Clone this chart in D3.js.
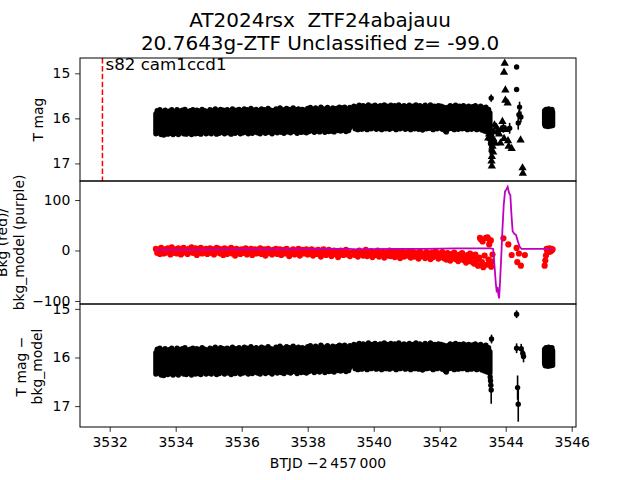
<!DOCTYPE html>
<html lang="en">
<head>
<meta charset="UTF-8">
<title>AT2024rsx light curve</title>
<script src="https://d3js.org/d3.v7.min.js"></script>
<style>
    body { margin: 0; background: #ffffff; }
    svg text { font-family: "DejaVu Sans", sans-serif; fill: #000000; white-space: pre; }
</style>
</head>
<body>
<div id="chart"></div>
<script>

// ---------------- data ----------------
const titleLines = ["AT2024rsx  ZTF24abajauu", "20.7643g-ZTF Unclassified z= -99.0"];
const sectorStart = 3531.78;          // start of sector (red dashed line)
const sectorLabel = "s82 cam1ccd1";
// the 200-s cadences are binned: each bin has a mean mag and a half-range of scatter
const orbitScatter = 0.22;
const lateScatter = 0.15;

// first orbit
const orbit1T = [
    3533.40, 3533.44, 3533.48, 3533.52, 3533.56, 3533.60, 3533.64, 3533.68, 3533.72, 3533.76, 3533.80, 3533.84, 3533.88, 3533.92, 3533.96,
    3534.00, 3534.04, 3534.08, 3534.12, 3534.16, 3534.20, 3534.24, 3534.28, 3534.32, 3534.36, 3534.40, 3534.44, 3534.48, 3534.52, 3534.56, 3534.60, 3534.64, 3534.68, 3534.72, 3534.76, 3534.80, 3534.84, 3534.88, 3534.92, 3534.96,
    3535.00, 3535.04, 3535.08, 3535.12, 3535.16, 3535.20, 3535.24, 3535.28, 3535.32, 3535.36, 3535.40, 3535.44, 3535.48, 3535.52, 3535.56, 3535.60, 3535.64, 3535.68, 3535.72, 3535.76, 3535.80, 3535.84, 3535.88, 3535.92, 3535.96,
    3536.00, 3536.04, 3536.08, 3536.12, 3536.16, 3536.20, 3536.24, 3536.28, 3536.32, 3536.36, 3536.40, 3536.44, 3536.48, 3536.52, 3536.56, 3536.60, 3536.64, 3536.68, 3536.72, 3536.76, 3536.80, 3536.84, 3536.88, 3536.92, 3536.96,
    3537.00, 3537.04, 3537.08, 3537.12, 3537.16, 3537.20, 3537.24, 3537.28, 3537.32, 3537.36, 3537.40, 3537.44, 3537.48, 3537.52, 3537.56, 3537.60, 3537.64, 3537.68, 3537.72, 3537.76, 3537.80, 3537.84, 3537.88, 3537.92, 3537.96,
    3538.00, 3538.04, 3538.08, 3538.12, 3538.16, 3538.20, 3538.24, 3538.28, 3538.32, 3538.36, 3538.40, 3538.44, 3538.48, 3538.52, 3538.56, 3538.60, 3538.64, 3538.68, 3538.72, 3538.76, 3538.80, 3538.84, 3538.88, 3538.92, 3538.96,
    3539.00, 3539.04, 3539.08, 3539.12, 3539.16, 3539.20, 3539.24, 3539.28
];
const orbit1Mag = [
    16.12, 16.05, 16.10, 16.03, 16.14, 16.07, 16.15, 16.04, 16.09, 16.13, 16.06, 16.11, 16.03, 16.14, 16.08,
    16.11, 16.03, 16.14, 16.06, 16.09, 16.04, 16.12, 16.02, 16.13, 16.07, 16.10, 16.05, 16.14, 16.03, 16.08, 16.12, 16.04, 16.11, 16.06, 16.13, 16.02, 16.09, 16.05, 16.12, 16.07,
    16.10, 16.03, 16.12, 16.05, 16.08, 16.01, 16.13, 16.06, 16.11, 16.02, 16.09, 16.04, 16.12, 16.07, 16.03, 16.10, 16.05, 16.13, 16.01, 16.08, 16.11, 16.04, 16.09, 16.02, 16.12,
    16.05, 16.10, 16.01, 16.09, 16.03, 16.12, 16.06, 16.00, 16.11, 16.04, 16.08, 16.02, 16.10, 16.05, 16.12, 16.01, 16.07, 16.03, 16.11, 16.06, 16.00, 16.09, 16.04, 16.12, 16.05,
    16.08, 16.01, 16.10, 16.04, 15.99, 16.09, 16.03, 16.11, 16.06, 16.00, 16.08, 16.02, 16.10, 16.05, 15.99, 16.07, 16.03, 16.11, 16.01, 16.06, 16.09, 16.02, 16.08, 16.04, 16.10,
    16.00, 16.07, 15.98, 16.05, 16.02, 16.09, 15.99, 16.06, 16.03, 16.08, 15.97, 16.04, 16.01, 16.09, 16.05, 15.98, 16.07, 16.02, 16.06, 15.99, 16.08, 16.03, 16.00, 16.05, 15.97,
    16.06, 15.99, 16.04, 15.97, 16.07, 16.01, 16.05, 15.98
];
const orbit1Bkg = [
    3, -5, 1, -7, 5, -2, -6, 2, -4, 4, -1, -8, 6, 0, -5,
    2, -6, 4, -3, -8, 1, 5, -4, 0, -7, 3, -2, 6, -5, -1, 4, -9, 2, -3, 5, -6, 1, -4, 3, -7,
    0, 4, -5, 2, -8, -1, 5, -4, 3, -6, 1, -9, 4, -2, -7, 2, -3, 5, -6, 0, -10, 3, -4, 1, -7,
    2, -5, -1, 4, -8, 0, -3, 3, -9, -2, 2, -6, 1, -4, 4, -7, -1, 2, -10, -3, 3, -5, 0, -8, 1,
    -4, 3, -7, -1, 2, -9, -3, 1, -6, 3, -2, -11, 0, -5, 2, -8, -1, -4, 3, -10, -2, 1, -6, -3, 2,
    -8, -1, -5, 2, -10, -3, 0, -7, 1, -4, -12, -2, 2, -6, -9, -1, 1, -5, -11, -3, 0, -7, -2, -13, -4,
    0, -6, -9, -2, 1, -8, -4, -11
];

// second orbit
const orbit2T = [
    3539.40, 3539.44, 3539.48, 3539.52, 3539.56, 3539.60, 3539.64, 3539.68, 3539.72, 3539.76, 3539.80, 3539.84, 3539.88, 3539.92, 3539.96,
    3540.00, 3540.04, 3540.08, 3540.12, 3540.16, 3540.20, 3540.24, 3540.28, 3540.32, 3540.36, 3540.40, 3540.44, 3540.48, 3540.52, 3540.56, 3540.60, 3540.64, 3540.68, 3540.72, 3540.76, 3540.80, 3540.84, 3540.88, 3540.92, 3540.96,
    3541.00, 3541.04, 3541.08, 3541.12, 3541.16, 3541.20, 3541.24, 3541.28, 3541.32, 3541.36, 3541.40, 3541.44, 3541.48, 3541.52, 3541.56, 3541.60, 3541.64, 3541.68, 3541.72, 3541.76, 3541.80, 3541.84, 3541.88, 3541.92, 3541.96,
    3542.00, 3542.04, 3542.08, 3542.12, 3542.16, 3542.20, 3542.24, 3542.28, 3542.32, 3542.36, 3542.40, 3542.44, 3542.48, 3542.52, 3542.56, 3542.60, 3542.64, 3542.68, 3542.72, 3542.76, 3542.80, 3542.84, 3542.88, 3542.92, 3542.96,
    3543.00, 3543.04, 3543.08, 3543.12, 3543.16, 3543.20, 3543.24, 3543.28, 3543.32, 3543.36, 3543.40, 3543.44, 3543.48, 3543.52
];
const orbit2Mag = [
    15.95, 16.01, 15.97, 16.03, 15.93, 15.99, 16.02, 15.94, 16.00, 15.96, 16.03, 15.92, 15.98, 16.01, 15.95,
    15.99, 15.93, 16.02, 15.96, 16.00, 15.94, 16.03, 15.97, 15.92, 16.01, 15.95, 15.99, 16.02, 15.93, 15.98, 16.00, 15.94, 16.03, 15.97, 15.92, 16.01, 15.96, 15.99, 15.94, 16.02,
    15.96, 16.00, 15.93, 16.03, 15.97, 15.95, 16.01, 15.92, 15.99, 16.02, 15.94, 15.98, 16.04, 15.96, 15.93, 16.01, 15.97, 16.00, 15.92, 15.99, 16.03, 15.95, 15.98, 16.01, 15.94,
    15.99, 15.95, 16.02, 15.97, 16.05, 16.08, 15.98, 16.01, 15.94, 16.00, 15.96, 16.03, 15.93, 15.99, 16.02, 15.95, 15.98, 16.01, 15.94, 16.00, 15.97, 16.03, 15.95, 15.99, 16.02,
    15.96, 16.00, 15.94, 16.03, 15.98, 16.01, 15.95, 16.04, 15.99, 16.06, 15.97, 16.08, 16.02, 16.10
];
const orbit2Bkg = [
    -2, -9, -5, -12, 0, -7, -3, -10, -6, 1, -11, -4, -8, -1, -13,
    -3, -9, -6, 0, -12, -5, -8, -2, -14, -7, -4, -10, 0, -11, -6, -3, -13, -8, -1, -9, -15, -5, -2, -12, -7,
    -4, -10, -1, -14, -7, -3, -12, -9, -5, -16, -2, -8, -11, -6, -15, -3, -10, -7, -17, -4, -13, -8, -2, -11, -16,
    -6, -12, -3, -15, -9, -18, -5, -11, -20, -7, -14, -4, -17, -10, -21, -8, -13, -5, -19, -11, -24, -9, -16, -6, -22,
    -12, -26, -8, -19, -30, -14, 22, -23, -33, -10, 25, -28, -18, 20
];

// late block after the gap
const lateT = [3545.18, 3545.20, 3545.22, 3545.24, 3545.26, 3545.28, 3545.30, 3545.32, 3545.34, 3545.36, 3545.38, 3545.40, 3545.42];
const lateMag = [15.98, 16.02, 15.95, 16.01, 15.97, 16.03, 15.94, 16.00, 15.96, 16.02, 15.99, 15.95, 16.01];
const lateBkg = [-30, -20, -10, 3, -2, 2, -3, 4, 0, -2, 3, 1, 2];

// flare / scattered light episode, T mag panel
const flareT   = [3543.56, 3543.55, 3543.57, 3543.54, 3543.58, 3543.56, 3543.47, 3543.50, 3543.93, 3544.12, 3544.33, 3544.33, 3544.42, 3544.40, 3544.46, 3544.38];
const flareMag = [15.55, 16.35, 16.45, 16.55, 16.62, 16.72, 16.30, 16.45, 16.20, 16.22, 14.86, 15.36, 15.75, 15.92, 15.97, 16.10];
const flareErr = [0.08, 0.10, 0.12, 0.12, 0.15, 0.12, 0.10, 0.12, 0.12, 0.12, 0.03, 0.05, 0.12, 0.10, 0.12, 0.15];

// upper limits (triangles)
const limitT   = [3543.97, 3543.95, 3543.99, 3543.99, 3544.06, 3543.58, 3543.58, 3543.60, 3543.62, 3543.72, 3543.80, 3543.86,
                  3543.90, 3543.95, 3543.58, 3543.47, 3544.09, 3544.07, 3544.18, 3544.45, 3544.51, 3544.52,
                  3543.50, 3543.62, 3543.68, 3543.74, 3543.66, 3543.84, 3544.00, 3543.62, 3543.57];
const limitMag = [14.78, 14.98, 15.37, 15.60, 15.66, 16.85, 17.06, 16.62, 16.30, 16.20, 16.35, 16.25,
                  16.07, 16.45, 16.55, 16.44, 16.62, 16.50, 16.67, 16.48, 17.10, 17.22,
                  16.35, 16.45, 16.55, 16.30, 16.15, 16.55, 16.25, 16.75, 16.95];

// background points outside the regular band
const bkgExtraT = [3543.22, 3543.30, 3543.45, 3543.50, 3543.55, 3543.56, 3543.58, 3543.60, 3543.93, 3544.08, 3544.33, 3544.18, 3544.40, 3544.58, 3544.35, 3544.46];
const bkgExtraV = [25, 18, 26, 12, 20, -32, -22, -8, 24, 12, 5, -9, -6, -9, -23, -30];

// background model (purple)
const modelT = [3533.40, 3534.50, 3535.50, 3536.50, 3537.50, 3538.50, 3539.28, 3539.40, 3540.50, 3541.50, 3542.50, 3543.30, 3543.55, 3543.62,
                3543.66, 3543.70, 3543.73, 3543.75, 3543.78, 3543.80, 3543.83, 3543.87, 3543.90, 3543.94, 3543.98, 3544.02, 3544.06, 3544.10,
                3544.14, 3544.17, 3544.21, 3544.26, 3544.31, 3544.36, 3544.42, 3544.48, 3545.18, 3545.42];
const modelV = [1, 1, 2, 2, 2, 3, 3, 2, 3, 3, 4, 4, 4, 3,
                -30, -65, -83, -72, -88, -95, -60, -5, 40, 90, 117, 121, 126, 114,
                110, 75, 38, 33, 31, 20, 8, 3, 3, 3];

// T mag - bkg_model panel, points outside the band
const corrT   = [3543.57, 3543.53, 3543.55, 3543.56, 3543.50, 3543.54, 3544.33, 3544.33, 3544.47, 3544.54, 3544.52, 3544.36, 3544.38];
const corrMag = [15.62, 16.40, 16.57, 16.67, 16.30, 16.48, 15.11, 15.81, 15.82, 15.98, 15.92, 16.62, 16.96];
const corrErr = [0.09, 0.10, 0.10, 0.28, 0.10, 0.10, 0.08, 0.10, 0.10, 0.12, 0.08, 0.25, 0.36];

const xTicks = [3532, 3534, 3536, 3538, 3540, 3542, 3544, 3546];
const magTicks = [15, 16, 17];
const bkgTicks = [-100, 0, 100];

// ---------------- layout ----------------
const width = 640, height = 480;
const left = 80, right = 576;
const panelH = 123;
const tops = [58, 181, 304];
const tickLen = 4.86, tickPad = 4.86;
const fontTick = 13.9;
const markerR = 2.7;

const svg = d3.select("#chart").append("svg")
    .attr("width", width)
    .attr("height", height);

const x = d3.scaleLinear().domain([3531.10, 3546.13]).range([left, right]);
const y1 = d3.scaleLinear().domain([14.66, 17.39]).range([tops[0], tops[0] + panelH]);
const y2 = d3.scaleLinear().domain([-106, 137.6]).range([tops[1] + panelH, tops[1]]);
const y3 = d3.scaleLinear().domain([14.90, 17.43]).range([tops[2], tops[2] + panelH]);

// binned band data
const band = orbit1T.map((t, i) => ({ t: t, m: orbit1Mag[i], s: orbitScatter, b: orbit1Bkg[i] }))
    .concat(orbit2T.map((t, i) => ({ t: t, m: orbit2Mag[i], s: orbitScatter, b: orbit2Bkg[i] })))
    .concat(lateT.map((t, i) => ({ t: t, m: lateMag[i], s: lateScatter, b: lateBkg[i] })));

// clip paths for the three panels
const defs = svg.append("defs");
tops.forEach((top, i) => {
    defs.append("clipPath").attr("id", "clip" + i)
        .append("rect")
        .attr("x", left).attr("y", top)
        .attr("width", right - left).attr("height", panelH);
});

function panel(i) {
    return svg.append("g").attr("clip-path", `url(#clip${i})`);
}

// each bin: the stack of overlapping markers between mean-scatter and mean+scatter
function bandBins(g, y, data, color) {
    g.append("g").selectAll("line")
        .data(data)
        .join("line")
        .attr("x1", d => x(d.t)).attr("x2", d => x(d.t))
        .attr("y1", d => y(d.m - d.s)).attr("y2", d => y(d.m + d.s))
        .attr("stroke", color)
        .attr("stroke-width", markerR * 2)
        .attr("stroke-linecap", "round");
}

// errorbar points (bars first, then markers)
function errPoints(g, y, data) {
    g.append("g").selectAll("line")
        .data(data)
        .join("line")
        .attr("x1", d => x(d.t)).attr("x2", d => x(d.t))
        .attr("y1", d => y(d.m - d.e)).attr("y2", d => y(d.m + d.e))
        .attr("stroke", "#000").attr("stroke-width", 1.6);
    g.append("g").selectAll("circle")
        .data(data)
        .join("circle")
        .attr("cx", d => x(d.t)).attr("cy", d => y(d.m))
        .attr("r", markerR)
        .attr("fill", "#000");
}

// ---- panel 1: T mag ----
const g1 = panel(0);
g1.append("line")
    .attr("x1", x(sectorStart)).attr("x2", x(sectorStart))
    .attr("y1", tops[0]).attr("y2", tops[0] + panelH)
    .attr("stroke", "red").attr("stroke-width", 1.5)
    .attr("stroke-dasharray", "5.5,2.4");

bandBins(g1, y1, band, "#000");
errPoints(g1, y1, flareT.map((t, i) => ({ t: t, m: flareMag[i], e: flareErr[i] })));

g1.append("g").selectAll("path")
    .data(limitT.map((t, i) => ({ t: t, m: limitMag[i] })))
    .join("path")
    .attr("d", d3.symbol(d3.symbolTriangle, 30))
    .attr("transform", d => `translate(${x(d.t)},${y1(d.m)})`)
    .attr("fill", "#000");

// ---- panel 2: background ----
const g2 = panel(1);
const redPts = band.map(d => ({ t: d.t, b: d.b }))
    .concat(bkgExtraT.map((t, i) => ({ t: t, b: bkgExtraV[i] })));
g2.append("g").selectAll("circle")
    .data(redPts)
    .join("circle")
    .attr("cx", d => x(d.t)).attr("cy", d => y2(d.b))
    .attr("r", 3.1)
    .attr("fill", "red");

g2.append("path")
    .datum(modelT.map((t, i) => [t, modelV[i]]))
    .attr("d", d3.line().x(d => x(d[0])).y(d => y2(d[1])))
    .attr("fill", "none")
    .attr("stroke", "#bf00bf")
    .attr("stroke-width", 1.8);

// ---- panel 3: T mag - bkg_model ----
const g3 = panel(2);
bandBins(g3, y3, band, "#000");
errPoints(g3, y3, corrT.map((t, i) => ({ t: t, m: corrMag[i], e: corrErr[i] })));

// ---- axes ----
function styleAxis(g) {
    g.select(".domain").remove();
    g.selectAll(".tick line").attr("stroke", "#000").attr("stroke-width", 0.8);
    g.selectAll(".tick text")
        .attr("font-size", fontTick)
        .attr("font-family", "DejaVu Sans")
        .attr("fill", "#000");
    g.attr("font-family", null).attr("font-size", null);
}

const fmt = d3.format("d");
[[y1, magTicks], [y2, bkgTicks], [y3, magTicks]].forEach(([y, ticks]) => {
    svg.append("g")
        .attr("transform", `translate(${left},0)`)
        .call(d3.axisLeft(y).tickValues(ticks).tickFormat(fmt).tickSize(tickLen).tickPadding(tickPad))
        .call(styleAxis);
});

svg.append("g")
    .attr("transform", `translate(0,${tops[2] + panelH})`)
    .call(d3.axisBottom(x).tickValues(xTicks).tickFormat(fmt).tickSize(tickLen).tickPadding(tickPad))
    .call(styleAxis);

// panel frames
tops.forEach(top => {
    svg.append("rect")
        .attr("x", left).attr("y", top)
        .attr("width", right - left).attr("height", panelH)
        .attr("fill", "none")
        .attr("stroke", "#000")
        .attr("stroke-width", 1);
});

// ---- texts ----
svg.append("text")
    .attr("x", x(sectorStart) + 3)
    .attr("y", 70)
    .attr("font-size", 16.7)
    .text(sectorLabel);

titleLines.forEach((s, i) => {
    svg.append("text")
        .attr("x", width / 2)
        .attr("y", 27 + i * 23)
        .attr("text-anchor", "middle")
        .attr("font-size", 20)
        .text(s);
});

svg.append("text")
    .attr("x", (left + right) / 2)
    .attr("y", 468)
    .attr("text-anchor", "middle")
    .attr("font-size", fontTick)
    .text("BTJD \u22122\u2009457\u2009000");

// rotated y labels, one entry per line
function yLabel(lines, cy, xs) {
    lines.forEach((s, i) => {
        svg.append("text")
            .attr("transform", `translate(${xs[i]},${cy}) rotate(-90)`)
            .attr("text-anchor", "middle")
            .attr("font-size", fontTick)
            .text(s);
    });
}
yLabel(["T mag"], tops[0] + panelH / 2, [43]);
yLabel(["Bkg (red)/", "bkg_model (purple)"], tops[1] + panelH / 2, [7, 23.5]);
yLabel(["T mag \u2212", "bkg_model"], tops[2] + panelH / 2 + 1, [25.5, 42]);

</script>
</body>
</html>
